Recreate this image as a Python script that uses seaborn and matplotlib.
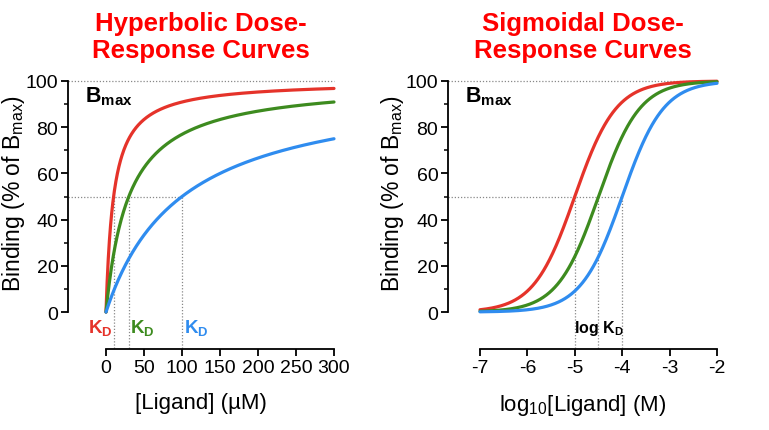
import numpy as np
import pandas as pd
import matplotlib
matplotlib.use("Agg")
import matplotlib.pyplot as plt
import seaborn as sns

# ---- data ----
kd_uM = [10, 30, 100]                # hyperbolic panel K_D values (µM)
log_kd = [-5.0, -4.5, -4.0]          # sigmoidal panel log K_D values (M)
series_names = ["high", "mid", "low"]
colors = ["#E5332A", "#3D8B1F", "#2F8CEF"]
hyper_xticks = [0, 50, 100, 150, 200, 250, 300]
sig_xticks = [-7, -6, -5, -4, -3, -2]
yticks = [0, 20, 40, 60, 80, 100]
titles = ["Hyperbolic Dose-\nResponse Curves", "Sigmoidal Dose-\nResponse Curves"]

sns.set_theme(style="ticks")
plt.rcParams["font.family"] = ["Liberation Sans", "DejaVu Sans"]
plt.rcParams["mathtext.fontset"] = "custom"
plt.rcParams["mathtext.rm"] = "Liberation Sans"
plt.rcParams["mathtext.bf"] = "Liberation Sans:bold"
plt.rcParams["mathtext.it"] = "Liberation Sans:italic"
for key in ["text.color", "axes.labelcolor", "xtick.color", "ytick.color",
            "xtick.labelcolor", "ytick.labelcolor"]:
    plt.rcParams[key] = "black"

W, H = 769, 431
fig = plt.figure(figsize=(W / 100, H / 100), dpi=100)

def px_axes(x0, x1, ytop, ybot):
    return fig.add_axes([x0 / W, 1 - ybot / H, (x1 - x0) / W, (ybot - ytop) / H])

axL = px_axes(68, 334, 82, 350)
axR = px_axes(448, 717, 82, 350)

# build data frames
L = np.linspace(0, 300, 600)
rows = []
for name, kd in zip(series_names, kd_uM):
    for l in L:
        rows.append((name, l, 100 * l / (l + kd)))
df_h = pd.DataFrame(rows, columns=["series", "x", "y"])

X = np.linspace(-7, -2, 600)
rows = []
for name, lk in zip(series_names, log_kd):
    for x in X:
        rows.append((name, x, 100 / (1 + 10 ** (lk - x))))
df_s = pd.DataFrame(rows, columns=["series", "x", "y"])

pal = dict(zip(series_names, colors))
for ax, df in [(axL, df_h), (axR, df_s)]:
    sns.lineplot(data=df, x="x", y="y", hue="series", palette=pal, ax=ax,
                 linewidth=2.3, legend=False, clip_on=False, zorder=3)

dot = dict(color="#888888", lw=0.9, ls=(0, (1, 1.5)), zorder=1, clip_on=False)

# left panel styling
axL.set_xlim(-50, 300)
axL.set_ylim(-16, 100)
axL.plot([-50, 300], [100, 100], **dot)
axL.plot([-50, kd_uM[-1]], [50, 50], **dot)
for kd in kd_uM:
    axL.plot([kd, kd], [50, -16], **dot)
axL.spines["bottom"].set_bounds(0, 300)
axL.set_xticks(hyper_xticks)
axL.text(kd_uM[0] - 1.5, -6.5, r"$\mathbf{K_D}$", color=colors[0], ha="right",
         va="center", fontsize=13.5)
axL.text(kd_uM[1] + 1.5, -6.5, r"$\mathbf{K_D}$", color=colors[1], ha="left",
         va="center", fontsize=13.5)
axL.text(kd_uM[2] + 2, -6.5, r"$\mathbf{K_D}$", color=colors[2], ha="left",
         va="center", fontsize=13.5)
axL.text(-28, 93.5, r"$\mathbf{B_{max}}$", ha="left", va="center", fontsize=15.5,
         color="black")
axL.set_xlabel("[Ligand] (µM)", fontsize=16, labelpad=12)

# right panel styling
axR.set_xlim(-7.675, -2)
axR.set_ylim(-16, 100)
axR.plot([-7.675, -2], [100, 100], **dot)
axR.plot([-7.675, log_kd[-1]], [50, 50], **dot)
for lk in log_kd:
    axR.plot([lk, lk], [50, -16], **dot)
axR.spines["bottom"].set_bounds(-7, -2)
axR.set_xticks(sig_xticks)
axR.set_xticklabels([str(t) for t in sig_xticks])
axR.text(np.mean(log_kd), -6.5, r"$\mathbf{log\ K_D}$", ha="center", va="center",
         fontsize=11.5, color="black")
axR.text(-7.32, 93.5, r"$\mathbf{B_{max}}$", ha="left", va="center", fontsize=15.5,
         color="black")
axR.set_xlabel(r"log$_{10}$[Ligand] (M)", fontsize=16, labelpad=12)

for ax, title in zip([axL, axR], titles):
    ax.spines["left"].set_bounds(0, 100)
    ax.spines["top"].set_visible(False)
    ax.spines["right"].set_visible(False)
    for s in ["left", "bottom"]:
        ax.spines[s].set_linewidth(1.3)
        ax.spines[s].set_color("black")
    ax.set_yticks(yticks)
    ax.set_yticks([10, 30, 50, 70, 90], minor=True)
    ax.tick_params(axis="both", which="major", length=5, width=1.3,
                   labelsize=14, color="black", labelcolor="black", pad=2,
                   direction="out")
    ax.tick_params(axis="y", which="minor", length=3, width=1.1, color="black",
                   direction="out")
    ax.set_ylabel(r"Binding (% of B$_{\mathrm{max}}$)", fontsize=16.5, color="black")
    ax.yaxis.set_label_coords(-0.155, 0.585)
    ax.xaxis.label.set_color("black")
    ax.set_title(title, color="#FF0000", fontsize=18.5, fontweight="bold",
                 pad=17, linespacing=1.2)
    ax.grid(False)

fig.savefig("out.png", dpi=100)
